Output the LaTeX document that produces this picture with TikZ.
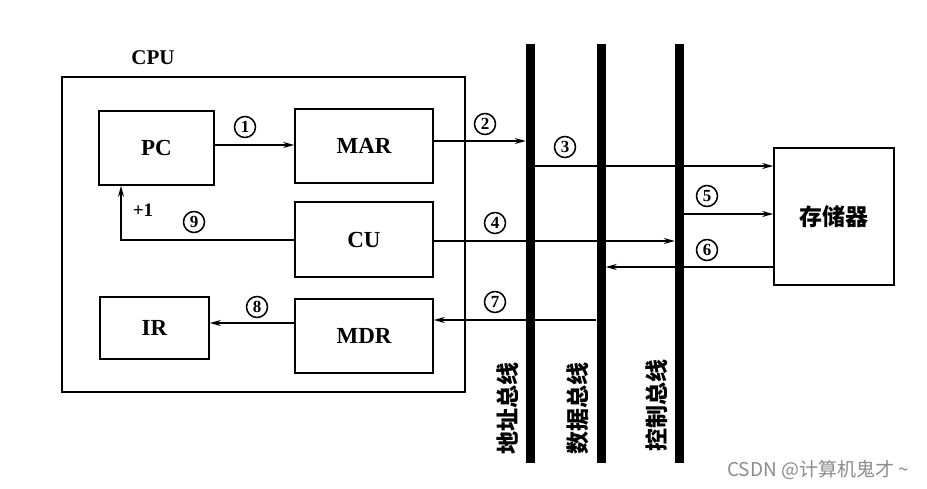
\documentclass[tikz,border=0pt]{standalone}
\usepackage{fontspec}
\setmainfont{Liberation Serif}
\newfontfamily\cjk{Noto Sans CJK SC}
\usetikzlibrary{arrows.meta,calc}
\begin{document}
\begin{tikzpicture}[x=1pt,y=-1pt,
  box/.style={draw, line width=1.6pt, inner sep=0pt, font=\fontsize{23}{23}\selectfont\bfseries},
  conn/.style={line width=1.5pt},
  arr/.style={conn, -{Stealth[length=11pt,width=6pt]}},
  bus/.style={fill=black, draw=none, minimum width=9pt, minimum height=419pt, inner sep=0pt},
  num/.style={circle, draw, line width=1.5pt, minimum size=21pt, inner sep=0pt, font=\fontsize{17}{17}\selectfont\bfseries},
  buslabel/.style={rotate=90, font=\cjk\bfseries\fontsize{23}{23}\selectfont, inner sep=0pt},
  lab/.style={font=\fontsize{19}{19}\selectfont\bfseries, inner sep=0pt}]
\useasboundingbox[fill=white] (0,0) rectangle (927,489);
% CPU frame
\node[box, minimum width=403pt, minimum height=315pt] (cpu) at (263.5,234.5) {};
\node[lab, font=\fontsize{21}{21}\selectfont\bfseries] (cpulab) at (153,58) {CPU};
% registers
\node[box, minimum width=115pt, minimum height=74pt] (PC)  at (156.5,148) {PC};
\node[box, minimum width=138pt, minimum height=74pt] (MAR) at (364,146) {MAR};
\node[box, minimum width=138pt, minimum height=75pt] (CU)  at (364,239.5) {CU};
\node[box, minimum width=109pt, minimum height=62pt] (IR)  at (154.5,328) {IR};
\node[box, minimum width=138pt, minimum height=74pt] (MDR) at (364,336) {MDR};
% memory
\node[box, minimum width=120pt, minimum height=137pt, font=\cjk\bfseries\fontsize{23}{23}\selectfont] (mem) at (834,216.5) {存储器};
% buses
\node[bus] (abus) at (530.5,253.5) {};
\node[bus] (dbus) at (601,253.5) {};
\node[bus] (cbus) at (679.5,253.5) {};
\node[buslabel] (alab) at (508,408) {地址总线};
\node[buslabel] (dlab) at (578,408) {数据总线};
\node[buslabel] (clab) at (657,405) {控制总线};
% row coordinates
\coordinate (r1) at (0,145);
\coordinate (r2) at (0,141);
\coordinate (r3) at (0,166);
\coordinate (r4) at (0,241);
\coordinate (r5) at (0,214);
\coordinate (r6) at (0,267);
\coordinate (r7) at (0,320);
\coordinate (r8) at (0,323);
\coordinate (k9) at (121,240);
% connectors
\draw[arr] (PC.east |- r1) -- (MAR.west |- r1);
\draw[arr] (MAR.east |- r2) -- (abus.west |- r2);
\draw[arr] (abus.east |- r3) -- (mem.west |- r3);
\draw[arr] (CU.east |- r4) -- (cbus.west |- r4);
\draw[arr] (cbus.east |- r5) -- (mem.west |- r5);
\draw[arr] (mem.west |- r6) -- (dbus.east |- r6);
\draw[arr] (dbus.west |- r7) -- (MDR.east |- r7);
\draw[arr] (MDR.west |- r8) -- (IR.east |- r8);
\draw[arr] (CU.west |- k9) -| (PC.south -| k9);
% redraw buses on top
\node[bus] at (abus) {};
\node[bus] at (dbus) {};
\node[bus] at (cbus) {};
% labels
\node[num] (n1) at (245,127) {1};
\node[num] (n2) at (485,124) {2};
\node[num] (n3) at (565,147) {3};
\node[num] (n4) at (495,223) {4};
\node[num] (n5) at (707,196) {5};
\node[num] (n6) at (707,250) {6};
\node[num] (n7) at (495,302) {7};
\node[num] (n8) at (257,307) {8};
\node[num] (n9) at (194,222) {9};
\node[lab] (p1) at (143,210) {+1};
% watermark
\node[font=\cjk\fontsize{19}{19}\selectfont, text=black!45, inner sep=0pt] (wm) at (818,470) {CSDN @计算机鬼才 \textasciitilde};
\end{tikzpicture}
\end{document}
